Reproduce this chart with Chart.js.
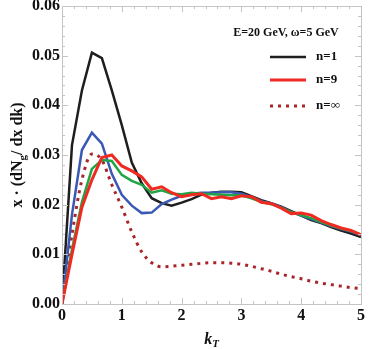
<!DOCTYPE html>
<html>
<head>
<meta charset="utf-8">
<script src="https://cdn.jsdelivr.net/npm/chart.js@4/dist/chart.umd.min.js"></script>
<style>
  html, body { margin: 0; padding: 0; background: #fff; }
  #wrap { width: 374px; height: 349px; position: relative; }
</style>
</head>
<body>
<div id="wrap"><canvas id="myChart"></canvas></div>
<script>
/*  gluon spectrum vs kT  */

const kT = [0, 0.167, 0.333, 0.5, 0.667, 0.833, 1, 1.167, 1.333, 1.5, 1.667, 1.833, 2, 2.167, 2.333, 2.5,
  2.667, 2.833, 3, 3.167, 3.333, 3.5, 3.667, 3.833, 4, 4.167, 4.333, 4.5, 4.667, 4.833, 5];

const n1 = [0, 0.032, 0.043, 0.0506, 0.0495, 0.043, 0.036, 0.0285, 0.0243, 0.0213, 0.0203, 0.0198, 0.0204, 0.0211, 0.022, 0.0224,
  0.0226, 0.0226, 0.0225, 0.0217, 0.0209, 0.0203, 0.0196, 0.0187, 0.0178, 0.0169, 0.0163, 0.0155, 0.0148, 0.0142, 0.0135];
const nBlue = [0, 0.018, 0.031, 0.0345, 0.0323, 0.0262, 0.022, 0.0198, 0.0183, 0.0184, 0.0201, 0.021, 0.0218, 0.0222, 0.0224, 0.0224,
  0.0225, 0.0225, 0.0222, 0.0215, 0.0207, 0.0202, 0.0195, 0.0185, 0.0178, 0.0171, 0.0164, 0.0157, 0.0151, 0.0146, 0.0138];
const nGreen = [0, 0.011, 0.0205, 0.0272, 0.029, 0.0288, 0.026, 0.0248, 0.024, 0.0224, 0.0229, 0.0222, 0.0221, 0.0224, 0.0222, 0.0221,
  0.022, 0.0219, 0.0219, 0.0213, 0.0206, 0.0201, 0.0194, 0.0185, 0.0179, 0.0173, 0.0165, 0.0158, 0.0152, 0.0147, 0.014];
const n9 = [0, 0.010, 0.0195, 0.025, 0.0295, 0.030, 0.0278, 0.0268, 0.0256, 0.0231, 0.0236, 0.0224, 0.0216, 0.022, 0.0222, 0.0212,
  0.0216, 0.0212, 0.0218, 0.0216, 0.0205, 0.0202, 0.0193, 0.0182, 0.0183, 0.0179, 0.0168, 0.016, 0.0153, 0.0148, 0.0139];
const nInf = [0, 0.014, 0.025, 0.0302, 0.029, 0.024, 0.0195, 0.0145, 0.0105, 0.0083, 0.0075, 0.0076, 0.0078, 0.008, 0.0082, 0.0083,
  0.0083, 0.0082, 0.008, 0.0076, 0.0071, 0.0066, 0.006, 0.0055, 0.0051, 0.0046, 0.0042, 0.0039, 0.0036, 0.0033, 0.0031];

const xTicks = [0, 1, 2, 3, 4, 5];
const yTicks = [0, 0.01, 0.02, 0.03, 0.04, 0.05, 0.06];
const legendTitle = 'E=20 GeV, ω=5 GeV';
const legendLabels = ['n=1', 'n=9', 'n=∞'];

const SERIF = '"Liberation Serif", "DejaVu Serif", serif';
const BLACK = '#1e1e1e', BLUE = '#3a58b4', GREEN = '#1ea646', RED = '#f02a22', DRED = '#a8262a';

const pts = arr => arr.map((v, i) => ({ x: kT[i], y: v }));

// frame, inward ticks, legend and axis titles
const decor = {
  id: 'decor',
  afterDraw(chart) {
    const { ctx, chartArea: a, scales: { x, y } } = chart;
    ctx.save();
    ctx.strokeStyle = '#c4c4c4';
    ctx.lineWidth = 1;
    ctx.strokeRect(Math.round(a.left) + 0.5, Math.round(a.top) + 0.5, Math.round(a.right - a.left), Math.round(a.bottom - a.top));
    ctx.beginPath();
    for (let i = 0; i <= 25; i++) {
      const px = Math.round(x.getPixelForValue(i * 0.2)) + 0.5;
      const len = i % 5 === 0 ? 6 : 3;
      ctx.moveTo(px, a.bottom); ctx.lineTo(px, a.bottom - len);
      ctx.moveTo(px, a.top); ctx.lineTo(px, a.top + len);
    }
    for (let i = 0; i <= 30; i++) {
      const py = Math.round(y.getPixelForValue(i * 0.002)) + 0.5;
      const len = i % 5 === 0 ? 6 : 3;
      ctx.moveTo(a.left, py); ctx.lineTo(a.left + len, py);
      ctx.moveTo(a.right, py); ctx.lineTo(a.right - len, py);
    }
    ctx.stroke();

    // legend
    ctx.fillStyle = '#111';
    ctx.textBaseline = 'middle';
    ctx.textAlign = 'center';
    ctx.font = 'bold 12px ' + SERIF;
    ctx.fillText(legendTitle, 286, 33);
    const rows = [
      { y: 57, color: BLACK, w: 2.5, dash: [] },
      { y: 80, color: RED, w: 3, dash: [] },
      { y: 106, color: DRED, w: 3, dash: [3, 5] }
    ];
    rows.forEach((r, i) => {
      ctx.beginPath();
      ctx.strokeStyle = r.color;
      ctx.lineWidth = r.w;
      ctx.setLineDash(r.dash);
      ctx.moveTo(270, r.y); ctx.lineTo(306, r.y);
      ctx.stroke();
      ctx.setLineDash([]);
      ctx.textAlign = 'left';
      ctx.font = 'bold 13px ' + SERIF;
      ctx.fillText(legendLabels[i], 316, r.y);
    });

    // x title k_T
    ctx.textBaseline = 'alphabetic';
    ctx.textAlign = 'left';
    ctx.font = 'italic bold 16px ' + SERIF;
    const kw = ctx.measureText('k').width;
    ctx.font = 'italic bold 11px ' + SERIF;
    const tw = ctx.measureText('T').width;
    let sx = (a.left + a.right) / 2 - (kw + tw) / 2;
    ctx.font = 'italic bold 16px ' + SERIF;
    ctx.fillText('k', sx, 344);
    ctx.font = 'italic bold 11px ' + SERIF;
    ctx.fillText('T', sx + kw, 347);

    // y title
    ctx.translate(22, 155);
    ctx.rotate(-Math.PI / 2);
    const parts = [['x · (dN', 16, 0], ['g', 11, 4], ['/ dx dk)', 16, 0]];
    let total = 0;
    parts.forEach(p => { ctx.font = 'bold ' + p[1] + 'px ' + SERIF; total += ctx.measureText(p[0]).width; });
    let cx = -total / 2;
    parts.forEach(p => {
      ctx.font = 'bold ' + p[1] + 'px ' + SERIF;
      ctx.fillText(p[0], cx, p[2]);
      cx += ctx.measureText(p[0]).width;
    });
    ctx.restore();
  }
};

Chart.defaults.font.family = SERIF;
Chart.defaults.font.weight = 'bold';
Chart.defaults.color = '#111';

const ctx = document.getElementById('myChart').getContext('2d');
const myChart = new Chart(ctx, {
  type: 'line',
  data: {
    datasets: [
      { label: 'n=9', data: pts(n9), borderColor: RED, borderWidth: 3, order: 0 },
      { label: 'green', data: pts(nGreen), borderColor: GREEN, borderWidth: 2.5, order: 1 },
      { label: 'blue', data: pts(nBlue), borderColor: BLUE, borderWidth: 2.5, order: 2 },
      { label: 'n=1', data: pts(n1), borderColor: BLACK, borderWidth: 2.5, order: 3 },
      { label: 'n=∞', data: pts(nInf), borderColor: DRED, borderWidth: 3, borderDash: [3, 5], cubicInterpolationMode: 'monotone', order: 4 }
    ]
  },
  options: {
    responsive: true,
    maintainAspectRatio: false,
    animation: false,
    events: [],
    elements: { point: { radius: 0 }, line: { tension: 0, fill: false } },
    layout: { padding: { top: 6, right: 13, left: 0, bottom: 0 } },
    plugins: { legend: { display: false }, tooltip: { enabled: false } },
    scales: {
      x: {
        type: 'linear', min: 0, max: 5,
        grid: { display: false, drawTicks: false },
        border: { display: false },
        afterBuildTicks: s => { s.ticks = xTicks.map(v => ({ value: v })); },
        ticks: { padding: 2, maxRotation: 0, font: { size: 16, weight: 'bold' }, callback: v => String(v) },
        afterFit: s => { s.height = 45; s.paddingLeft = 0; s.paddingRight = 0; }
      },
      y: {
        min: 0, max: 0.06,
        grid: { display: false, drawTicks: false },
        border: { display: false },
        afterBuildTicks: s => { s.ticks = yTicks.map(v => ({ value: v })); },
        ticks: { padding: 2, font: { size: 16, weight: 'bold' }, callback: v => v.toFixed(2) },
        afterFit: s => { s.width = 62; s.paddingTop = 0; s.paddingBottom = 0; }
      }
    }
  },
  plugins: [decor]
});
</script>
</body>
</html>
